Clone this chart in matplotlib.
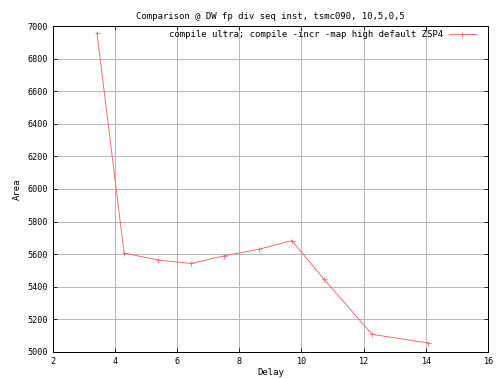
"""Gnuplot-style area vs delay comparison chart."""
import matplotlib
matplotlib.use('Agg')
import matplotlib.pyplot as plt

delay = [3.42, 4.29, 5.38, 6.44, 7.50, 8.63, 9.69, 10.72, 12.27, 14.07]
area = [6957, 5607, 5564, 5543, 5589, 5630, 5683, 5448, 5108, 5055]
series_label = 'compile ultra; compile -incr -map high default ZSP4'
title = 'Comparison @ DW fp div seq inst, tsmc090, 10,5,0,5'

plt.rcParams['font.family'] = 'DejaVu Sans Mono'
plt.rcParams['font.size'] = 9

fig = plt.figure(figsize=(7, 5.25), dpi=72)
ax = fig.add_axes([0.105, 0.069, 0.863, 0.862])

ax.plot(delay, area, color='#ff6060', linewidth=0.9, marker='+', markersize=5,
        markeredgewidth=0.8, label=series_label)

ax.set_xlim(2, 16)
ax.set_ylim(5000, 7000)
ax.set_xticks(range(2, 17, 2))
ax.set_yticks(range(5000, 7001, 200))
ax.grid(True, color='#b8b8b8', linewidth=1)
ax.set_axisbelow(True)
ax.tick_params(direction='in', length=4, top=True, right=True, labelsize=8.5, pad=5)
for s in ax.spines.values():
    s.set_linewidth(1)

ax.set_title(title, fontsize=9, pad=7)
ax.set_xlabel('Delay', fontsize=9, labelpad=2)
ax.set_ylabel('Area', fontsize=9, labelpad=6)

leg = ax.legend(loc='upper right', bbox_to_anchor=(0.982, 1.0), frameon=False,
                markerfirst=False, handlelength=3.1, handletextpad=0.55,
                borderaxespad=0.2, borderpad=0.2, fontsize=9)

fig.savefig('out.png', dpi=72)
